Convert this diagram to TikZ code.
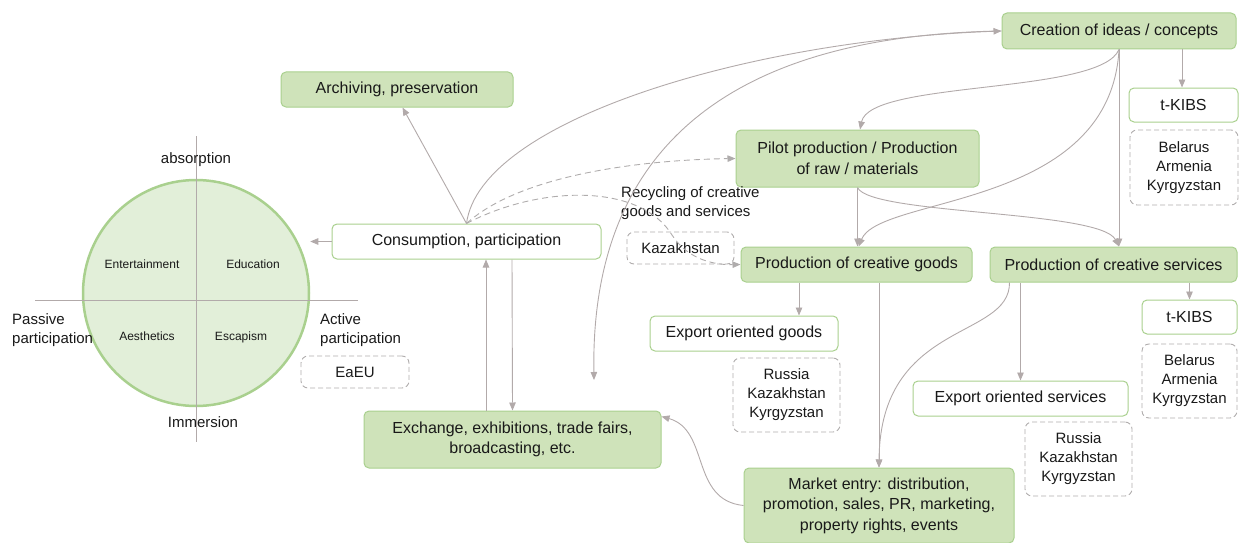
\documentclass[tikz,border=0pt]{standalone}
\usepackage{fontspec}
\setmainfont{Liberation Sans}
\usetikzlibrary{arrows.meta}
\definecolor{boxgreen}{RGB}{207,227,186}
\definecolor{edgegreen}{RGB}{169,208,142}
\definecolor{circfill}{RGB}{226,239,217}
\definecolor{linegray}{RGB}{178,170,170}
\definecolor{dashgray}{RGB}{175,172,172}
\definecolor{txt}{RGB}{25,25,25}
\tikzset{
 greenbox/.style={draw=edgegreen, fill=boxgreen, rounded corners=5pt, line width=1pt, align=center, inner sep=0pt, text=txt, font=\fontsize{16}{20.5}\selectfont},
 whitebox/.style={greenbox, fill=white},
 dashbox/.style={draw=dashgray, dash pattern=on 5pt off 3pt, rounded corners=7pt, line width=0.9pt, align=center, inner sep=0pt, text=txt, font=\fontsize{15}{19}\selectfont},
 plain/.style={align=left, inner sep=0pt, text=txt, font=\fontsize{15}{19.5}\selectfont},
 quarter/.style={inner sep=0pt, text=txt, font=\fontsize{12}{14}\selectfont},
 conn/.style={draw=linegray, line width=0.9pt, -{Triangle[length=8pt,width=6.5pt]}},
 dconn/.style={conn, draw=dashgray, dash pattern=on 6pt off 4pt},
}
\begin{document}
\begin{tikzpicture}[x=1pt,y=-1pt]
\useasboundingbox (0,0) rectangle (1239,543);

\node[circle, draw=edgegreen, fill=circfill, line width=2.5pt, minimum size=226pt, inner sep=0pt] (circ) at (196,293) {};
\draw[linegray, line width=0.9pt] (196,136) -- (196,442);
\draw[linegray, line width=0.9pt] (35,300) -- (358,300);
\node[quarter] (ent) at (142,264) {Entertainment};
\node[quarter] (edu) at (253,264) {Education};
\node[quarter] (aes) at (147,336) {Aesthetics};
\node[quarter] (esc) at (241,337) {Escapism};
\node[plain] (absn) at (196,160) {absorption};
\node[plain] (imm) at (203,422) {Immersion};
\node[plain, anchor=west] (pass) at (12,330) {Passive\\participation};
\node[plain, anchor=west] (act) at (320,330) {Active\\participation};

\node[greenbox, minimum width=234pt, minimum height=36pt] (cre) at (1119,31) {Creation of ideas / concepts};
\node[greenbox, minimum width=232pt, minimum height=35pt] (arch) at (397,89.5) {Archiving, preservation};
\node[greenbox, minimum width=243pt, minimum height=57pt] (pilot) at (857.5,158.5) {Pilot production / Production\\of raw / materials};
\node[whitebox, minimum width=109pt, minimum height=34pt] (kibsa) at (1183.5,105) {t-KIBS};
\node[dashbox, minimum width=108pt, minimum height=75pt] (ctya) at (1184,167.5) {Belarus\\Armenia\\Kyrgyzstan};
\node[plain, anchor=west] (recy) at (621,203) {Recycling of creative\\goods and services};
\node[whitebox, minimum width=269pt, minimum height=35pt] (cons) at (466.5,241.5) {Consumption, participation};
\node[dashbox, minimum width=107pt, minimum height=32pt] (kaz) at (680.5,248) {Kazakhstan};
\node[greenbox, minimum width=231pt, minimum height=35pt] (goods) at (856.5,264.5) {Production of creative goods};
\node[greenbox, minimum width=247pt, minimum height=35pt] (serv) at (1113.5,264.5) {Production of creative services};
\node[whitebox, minimum width=95pt, minimum height=34pt] (kibsb) at (1189.5,317) {t-KIBS};
\node[dashbox, minimum width=95pt, minimum height=74pt] (ctyb) at (1189.5,381) {Belarus\\Armenia\\Kyrgyzstan};
\node[whitebox, minimum width=188pt, minimum height=35pt] (expg) at (744,333.5) {Export oriented goods};
\node[dashbox, minimum width=107pt, minimum height=74pt] (ctyc) at (786.5,395) {Russia\\Kazakhstan\\Kyrgyzstan};
\node[dashbox, minimum width=108pt, minimum height=32pt] (eaeu) at (355,372) {EaEU};
\node[whitebox, minimum width=215pt, minimum height=35pt] (exps) at (1020.5,398.5) {Export oriented services};
\node[dashbox, minimum width=107pt, minimum height=74pt] (ctyd) at (1078.5,459) {Russia\\Kazakhstan\\Kyrgyzstan};
\node[greenbox, minimum width=297pt, minimum height=57pt] (exch) at (512.5,439.5) {Exchange, exhibitions, trade fairs,\\broadcasting, etc.};
\node[greenbox, minimum width=270pt, minimum height=75pt] (market) at (879,505.5) {Market entry: distribution,\\promotion, sales, PR, marketing,\\property rights, events};
\coordinate (loose) at (594,380);

\draw[conn] (cons.north) -- ([xshift=5.5pt]arch.south);
\draw[conn] (cons.west) -- (cons.west -| circ.east);
\draw[conn] (cons.north) .. controls (480,120) and (750,40) .. (cre.west);
\draw[conn] (cre.west) .. controls (740,35) and (590,140) .. (loose);
\draw[dconn] (cons.north) .. controls (520,175) and (640,160) .. (pilot.west);
\draw[dconn] (cons.north) .. controls (540,185) and (640,183) .. (672,235) .. controls (688,260) and (715,265) .. (goods.west);
\draw[conn] (cre.south) .. controls (1100,95) and (870,80) .. ([xshift=2.5pt]pilot.north);
\draw[conn] (cre.south) .. controls (1110,210) and (880,195) .. ([xshift=2pt]goods.north);
\draw[conn] (cre.south) -- (cre.south |- serv.north);
\draw[conn] ([xshift=63pt]cre.south) -- ([xshift=63pt]cre.south |- kibsa.north);
\draw[conn] (pilot.south) .. controls (870,215) and (1100,210) .. (cre.south |- serv.north);
\draw[conn] (pilot.south) -- (pilot.south |- goods.north);
\draw[conn] (kibsb.north |- serv.south) -- (kibsb.north);
\draw[conn] (exps.north |- serv.south) -- (exps.north);
\draw[conn] ([xshift=-104pt]serv.south) .. controls (1010,340) and (880,320) .. (market.north);
\draw[conn] (market.north |- goods.south) -- (market.north);
\draw[conn] ([xshift=55pt]expg.north |- goods.south) -- ([xshift=55pt]expg.north);
\draw[conn] (market.west) .. controls (690,500) and (710,430) .. ([yshift=23pt]exch.east);
\draw[conn] ([xshift=-26.5pt]exch.north) -- ([xshift=19.5pt]cons.south);
\draw[conn] ([xshift=45.5pt]cons.south) -- (exch.north);
\end{tikzpicture}
\end{document}
